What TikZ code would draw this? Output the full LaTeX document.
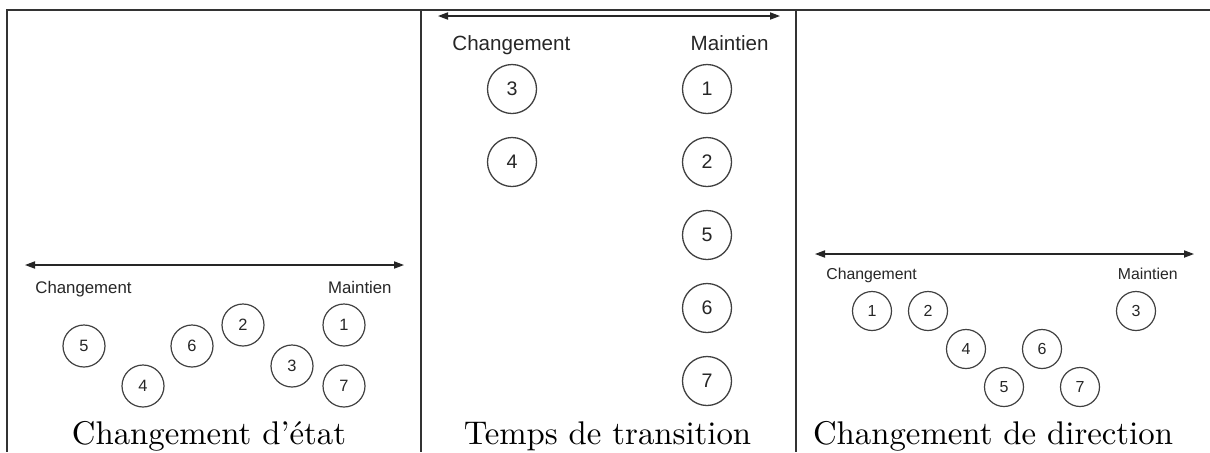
\documentclass[tikz,border=0pt]{standalone}
\usepackage{fontspec}
\setsansfont{Liberation Sans}
\newfontfamily\capfont{lmroman10-regular}[Extension=.otf,Ligatures=TeX]
\usetikzlibrary{arrows.meta}
\begin{document}
\begin{tikzpicture}[x=0.5pt,y=-0.5pt,
  rule/.style={line width=0.8pt,draw=black!80},
  axis/.style={line width=0.6pt,draw=black!85,{Triangle[length=5pt,width=3.6pt]}-{Triangle[length=5pt,width=3.6pt]}},
  ballA/.style={circle,draw=black!75,line width=0.6pt,minimum size=21pt,inner sep=0pt,font=\sffamily\fontsize{8.2}{8}\selectfont,text=black!85},
  ballB/.style={circle,draw=black!75,line width=0.65pt,minimum size=24.5pt,inner sep=0pt,font=\sffamily\fontsize{9.8}{10}\selectfont,text=black!85},
  ballC/.style={circle,draw=black!75,line width=0.6pt,minimum size=19.5pt,inner sep=0pt,font=\sffamily\fontsize{8}{8}\selectfont,text=black!85},
  lblA/.style={inner sep=0pt,font=\sffamily\fontsize{8.4}{9}\selectfont,text=black!85},
  lblB/.style={inner sep=0pt,font=\sffamily\fontsize{10.3}{11}\selectfont,text=black!85},
  lblC/.style={inner sep=0pt,font=\sffamily\fontsize{7.9}{8}\selectfont,text=black!85},
  caption/.style={inner sep=0pt,anchor=base,font=\capfont\fontsize{16.4}{18}\selectfont}]
\useasboundingbox (0,0) rectangle (1210,452);
% table rules
\draw[rule] (6,10) -- (1210,10);
\draw[rule] (7,10) -- (7,452);
\draw[rule] (421,10) -- (421,452);
\draw[rule] (796,10) -- (796,452);

% ---------- panel 1 ----------
\coordinate (p1L) at (25,265);
\coordinate (p1R) at (404,265);
\draw[axis] (p1L) -- (p1R);
\node[lblA,anchor=base west] (p1ch) at (35,293) {Changement};
\node[lblA,anchor=base east] (p1ma) at (392,293) {Maintien};
\node[ballA] (p1n5) at (84,346) {5};
\node[ballA] (p1n6) at (192,346) {6};
\node[ballA] (p1n2) at (243,325) {2};
\node[ballA] (p1n1) at (344,325) {1};
\node[ballA] (p1n3) at (292,366) {3};
\node[ballA] (p1n4) at (143,386) {4};
\node[ballA] (p1n7) at (344,386) {7};
\node[caption] (cap1) at (209,444) {Changement d’état};

% ---------- panel 2 ----------
\coordinate (p2L) at (438,16);
\coordinate (p2R) at (780,16);
\draw[axis] (p2L) -- (p2R);
\node[lblB,anchor=base west] (p2ch) at (452,50) {Changement};
\node[lblB,anchor=base east] (p2ma) at (769,50) {Maintien};
\node[ballB] (p2n3) at (512,89) {3};
\node[ballB] (p2n4) at (512,162) {4};
\node[ballB] (p2n1) at (707,89) {1};
\node[ballB] (p2n2) at (707,162) {2};
\node[ballB] (p2n5) at (707,235) {5};
\node[ballB] (p2n6) at (707,308) {6};
\node[ballB] (p2n7) at (707,381) {7};
\node[caption] (cap2) at (607.5,444) {Temps de transition};

% ---------- panel 3 ----------
\coordinate (p3L) at (815,254);
\coordinate (p3R) at (1194,254);
\draw[axis] (p3L) -- (p3R);
\node[lblC,anchor=base west] (p3ch) at (826,279) {Changement};
\node[lblC,anchor=base east] (p3ma) at (1178,279) {Maintien};
\node[ballC] (p3n1) at (872,311) {1};
\node[ballC] (p3n2) at (928,311) {2};
\node[ballC] (p3n3) at (1136,311) {3};
\node[ballC] (p3n4) at (966,349) {4};
\node[ballC] (p3n6) at (1042,349) {6};
\node[ballC] (p3n5) at (1004,387) {5};
\node[ballC] (p3n7) at (1080,387) {7};
\node[caption] (cap3) at (993,444) {Changement de direction};
\end{tikzpicture}
\end{document}
